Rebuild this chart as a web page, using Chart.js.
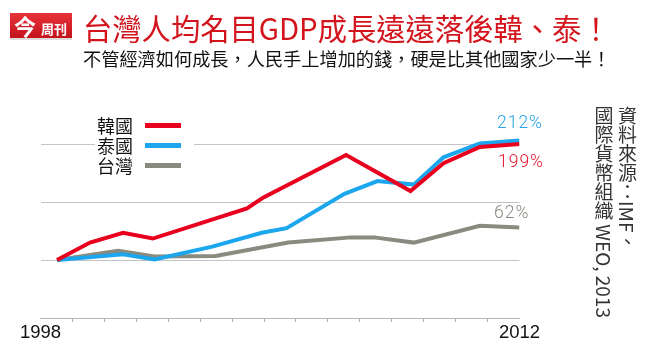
<!DOCTYPE html>
<html>
<head>
<meta charset="utf-8">
<script src="https://cdn.jsdelivr.net/npm/chart.js@4"></script>
<style>
html,body{margin:0;padding:0;background:#fff;}
#wrap{position:relative;width:650px;height:350px;overflow:hidden;font-family:"Noto Sans CJK TC","Noto Sans",sans-serif;}
#chart{position:absolute;left:0;top:0;}
.abs{position:absolute;white-space:nowrap;}
#logo{left:10px;top:13px;width:62px;height:25px;background:linear-gradient(#e8333a,#c4121b);color:#fff;border-bottom:2px solid #ddd;}
#logo .big{position:absolute;left:4px;top:-2px;font-size:22px;line-height:28px;font-weight:700;}
#logo .small{position:absolute;left:31px;top:8px;font-size:13px;line-height:15px;font-weight:700;}
#title{left:83px;top:13px;font-size:29.3px;line-height:29px;color:#d3141c;}
#subtitle{left:83px;top:49px;font-size:18.2px;line-height:18px;color:#111;}
#legend{left:95px;top:115px;width:99px;height:60px;background:#fff;}
.row{position:relative;height:20px;}
.row span{position:absolute;left:2px;top:0;font-size:18px;line-height:20px;color:#111;}
.row i{position:absolute;left:50px;top:8px;width:36px;height:5px;}
.pct{font-family:Roboto,"Liberation Sans",sans-serif;font-weight:300;font-size:17.5px;line-height:20px;letter-spacing:1px;}
#src{left:592px;top:106px;writing-mode:vertical-rl;font-size:19px;line-height:23.5px;color:#333;}
</style>
</head>
<body>
<div id="wrap">
  <canvas id="chart" width="650" height="350"></canvas>
  <div id="logo" class="abs"><span class="big">今</span><span class="small">周刊</span></div>
  <div id="title" class="abs">台灣人均名目GDP成長遠遠落後韓、泰！</div>
  <div id="subtitle" class="abs">不管經濟如何成長，人民手上增加的錢，硬是比其他國家少一半！</div>
  <div id="legend" class="abs"></div>
  <div id="pctThai" class="abs pct" style="left:497px;top:112px;color:#2aa3e8;"></div>
  <div id="pctKorea" class="abs pct" style="left:498px;top:151px;color:#e81532;"></div>
  <div id="pctTaiwan" class="abs pct" style="left:494px;top:202px;color:#8a897f;"></div>
  <div id="src" class="abs">資料來源：IMF、<br>國際貨幣組織 WEO, 2013</div>
</div>
<script>
// ---- data (growth of nominal GDP per capita since 1998, %) ----
const seriesNames = ['韓國', '泰國', '台灣'];
const koreaYears  = [1998, 1999, 2000, 2000.9, 2003.75, 2004.25, 2006.75, 2008.7, 2009.7, 2010.8, 2012];
const koreaValues = [0, 30, 47, 37, 89, 108, 181, 119, 167, 195, 200];
const thaiYears   = [1998, 2000, 2000.95, 2002.7, 2004.2, 2004.95, 2006.7, 2007.7, 2008.8, 2009.7, 2010.8, 2012];
const thaiValues  = [0, 10, 1, 23, 47, 55, 114, 136, 130, 177, 201, 206];
const taiwanYears  = [1998, 1999.85, 2000.95, 2002.8, 2005, 2006.9, 2007.6, 2008.8, 2010.8, 2012];
const taiwanValues = [0, 16, 6, 7, 30, 39, 39, 30, 59, 56];
const endLabels = ['199%', '212%', '62%'];
const axisLabels = ['1998', '2012'];
const gridValues = [0, 100, 200];

const colors = ['#e8001e', '#1ba6ee', '#8a8a7e'];

function pts(xs, ys) { return xs.map((x, i) => ({ x: x, y: ys[i] })); }

// legend + end labels (text)
const legend = document.getElementById('legend');
seriesNames.forEach((n, i) => {
  const r = document.createElement('div');
  r.className = 'row';
  r.innerHTML = '<span>' + n + '</span><i style="background:' + colors[i] + '"></i>';
  legend.appendChild(r);
});
document.getElementById('pctKorea').textContent = endLabels[0];
document.getElementById('pctThai').textContent = endLabels[1];
document.getElementById('pctTaiwan').textContent = endLabels[2];

const tickCount = 16;
const bottomLabels = Array.from({ length: tickCount }, (_, i) =>
  i === 0 ? axisLabels[0] : (i === tickCount - 1 ? axisLabels[1] : ''));

new Chart(document.getElementById('chart'), {
  type: 'line',
  data: {
    datasets: [
      { label: seriesNames[0], data: pts(koreaYears, koreaValues), borderColor: colors[0] },
      { label: seriesNames[1], data: pts(thaiYears, thaiValues), borderColor: colors[1] },
      { label: seriesNames[2], data: pts(taiwanYears, taiwanValues), borderColor: colors[2] }
    ].map(d => Object.assign(d, {
      borderWidth: 4, pointRadius: 0, tension: 0, fill: false,
      xAxisID: 'x', yAxisID: 'y', borderCapStyle: 'butt', borderJoinStyle: 'miter'
    }))
  },
  options: {
    responsive: false,
    animation: false,
    devicePixelRatio: 1,
    layout: { padding: { left: 40.5, right: 130.5, top: 86, bottom: 0 } },
    plugins: { legend: { display: false }, tooltip: { enabled: false } },
    scales: {
      x: { type: 'linear', min: 1997.5, max: 2012, display: false },
      x2: {
        type: 'category', labels: bottomLabels, position: 'bottom', offset: false,
        grid: {
          display: true, drawOnChartArea: false, drawTicks: true, tickLength: 4, offset: false,
          tickColor: ctx => (ctx.index === 0 || ctx.index === tickCount - 1) ? 'rgba(0,0,0,0)' : '#b0b0b0'
        },
        border: { display: true, color: '#b5b5b5', width: 1 },
        ticks: {
          autoSkip: false, maxRotation: 0, padding: 0, color: '#111',
          font: { family: '"Liberation Sans", Arial, sans-serif', size: 18.5 }
        },
        afterFit: s => { s.height = 32; }
      },
      y: {
        min: -100, max: 300,
        ticks: { display: false, stepSize: 100 },
        border: { display: false },
        grid: {
          drawTicks: false,
          color: ctx => gridValues.includes(ctx.tick.value) ? '#c4c4c4' : 'rgba(0,0,0,0)',
          lineWidth: 1
        },
        afterFit: s => { s.width = 0; }
      }
    }
  }
});
</script>
</body>
</html>
